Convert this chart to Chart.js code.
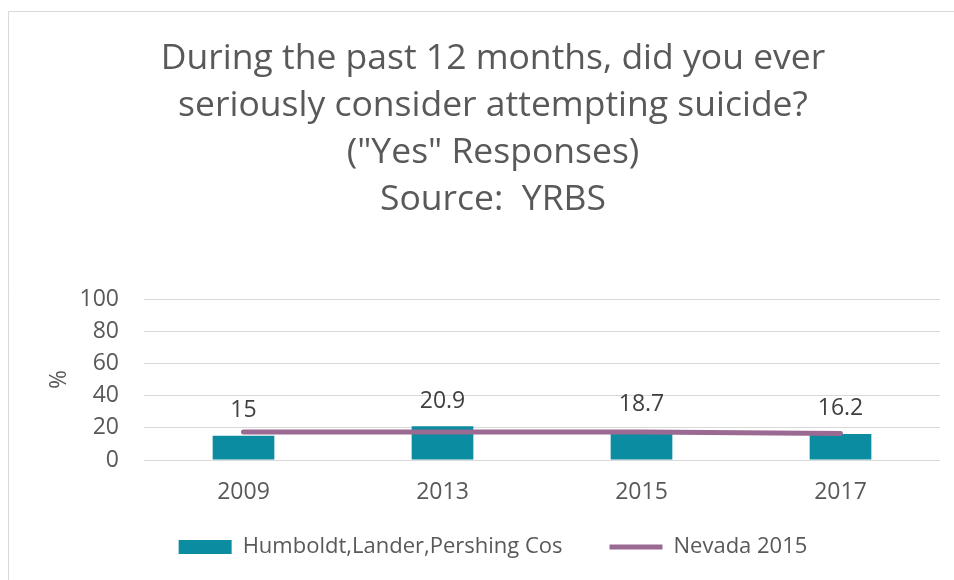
<!DOCTYPE html>
<html>
<head>
<meta charset="utf-8">
<script src="https://cdn.jsdelivr.net/npm/chart.js@4/dist/chart.umd.min.js"></script>
<style>
  html, body { margin: 0; padding: 0; background: #ffffff; }
  #wrap { position: relative; width: 954px; height: 580px; }
</style>
</head>
<body>
<div id="wrap"><canvas id="c" width="954" height="580"></canvas></div>
<script>
const titleLines = ["During the past 12 months, did you ever", "seriously consider attempting suicide?", "(\"Yes\" Responses)", "Source:  YRBS"];
const categories = ["2009", "2013", "2015", "2017"];
const countyLabel = "Humboldt,Lander,Pershing Cos";
const countyValues = [15, 20.9, 18.7, 16.2];
const nevadaLabel = "Nevada 2015";
const nevadaValues = [17.4, 17.4, 17.4, 16.5];
const yTicks = [0, 20, 40, 60, 80, 100];
const yAxisTitle = "%";

const FONT = "'Open Sans', 'Noto Sans', sans-serif";
const TEXT = "#595959";
Chart.defaults.font.family = FONT;
Chart.defaults.color = TEXT;

const frame = {
  id: 'frame',
  beforeDraw(chart) {
    const ctx = chart.ctx;
    ctx.save();
    ctx.strokeStyle = '#d9d9d9';
    ctx.lineWidth = 1;
    ctx.beginPath();
    ctx.moveTo(954, 11.5);
    ctx.lineTo(8.5, 11.5);
    ctx.lineTo(8.5, 580);
    ctx.stroke();
    ctx.restore();
  }
};

const barLabels = {
  id: 'barLabels',
  afterDatasetsDraw(chart) {
    const meta = chart.getDatasetMeta(0);
    const ctx = chart.ctx;
    ctx.save();
    ctx.font = "23px " + FONT;
    ctx.fillStyle = '#404040';
    ctx.textAlign = 'center';
    ctx.textBaseline = 'middle';
    meta.data.forEach((el, i) => {
      ctx.fillText(String(countyValues[i]), el.x, el.y - 25);
    });
    ctx.restore();
  }
};

new Chart(document.getElementById('c'), {
  data: {
    labels: categories,
    datasets: [
      {
        type: 'bar',
        label: countyLabel,
        data: countyValues,
        backgroundColor: '#0B8CA0',
        borderWidth: 0,
        pointStyle: 'rect',
        barPercentage: 0.31,
        categoryPercentage: 1.0,
        order: 1
      },
      {
        type: 'line',
        label: nevadaLabel,
        data: nevadaValues,
        borderColor: '#9B6A93',
        backgroundColor: '#9B6A93',
        borderWidth: 5,
        borderCapStyle: 'round',
        borderJoinStyle: 'round',
        pointRadius: 0,
        pointHoverRadius: 0,
        pointStyle: 'line',
        tension: 0,
        order: 0
      }
    ]
  },
  options: {
    responsive: false,
    devicePixelRatio: 1,
    animation: false,
    layout: { padding: { left: 46, right: 14, top: 35, bottom: 12 } },
    plugins: {
      title: {
        display: true,
        text: titleLines,
        color: TEXT,
        font: { family: FONT, size: 35.5, weight: 'normal', lineHeight: '47px' },
        padding: { top: 0, bottom: 76 }
      },
      legend: {
        display: true,
        position: 'bottom',
        reverse: true,
        labels: {
          usePointStyle: true,
          pointStyleWidth: 53,
          boxHeight: 14,
          padding: 47,
          color: TEXT,
          font: { family: FONT, size: 22 }
        }
      },
      tooltip: { enabled: false }
    },
    scales: {
      x: {
        grid: { display: false, drawTicks: false },
        border: { display: false },
        ticks: { color: TEXT, padding: 19, font: { size: 23 } },
        afterFit(s) {
          s.height = 29;
          s._computeLabelArea = () => undefined;
        }
      },
      y: {
        min: 0,
        max: 100,
        afterBuildTicks(s) { s.ticks = yTicks.map(v => ({ value: v })); },
        grid: { color: '#d9d9d9', lineWidth: 1, drawTicks: false },
        border: { display: false },
        ticks: { color: TEXT, padding: 25, font: { size: 23 } },
        title: { display: true, text: yAxisTitle, color: TEXT, padding: 0, font: { size: 23 } },
        afterFit(s) { s.width = 98; }
      }
    }
  },
  plugins: [frame, barLabels]
});
</script>
</body>
</html>
